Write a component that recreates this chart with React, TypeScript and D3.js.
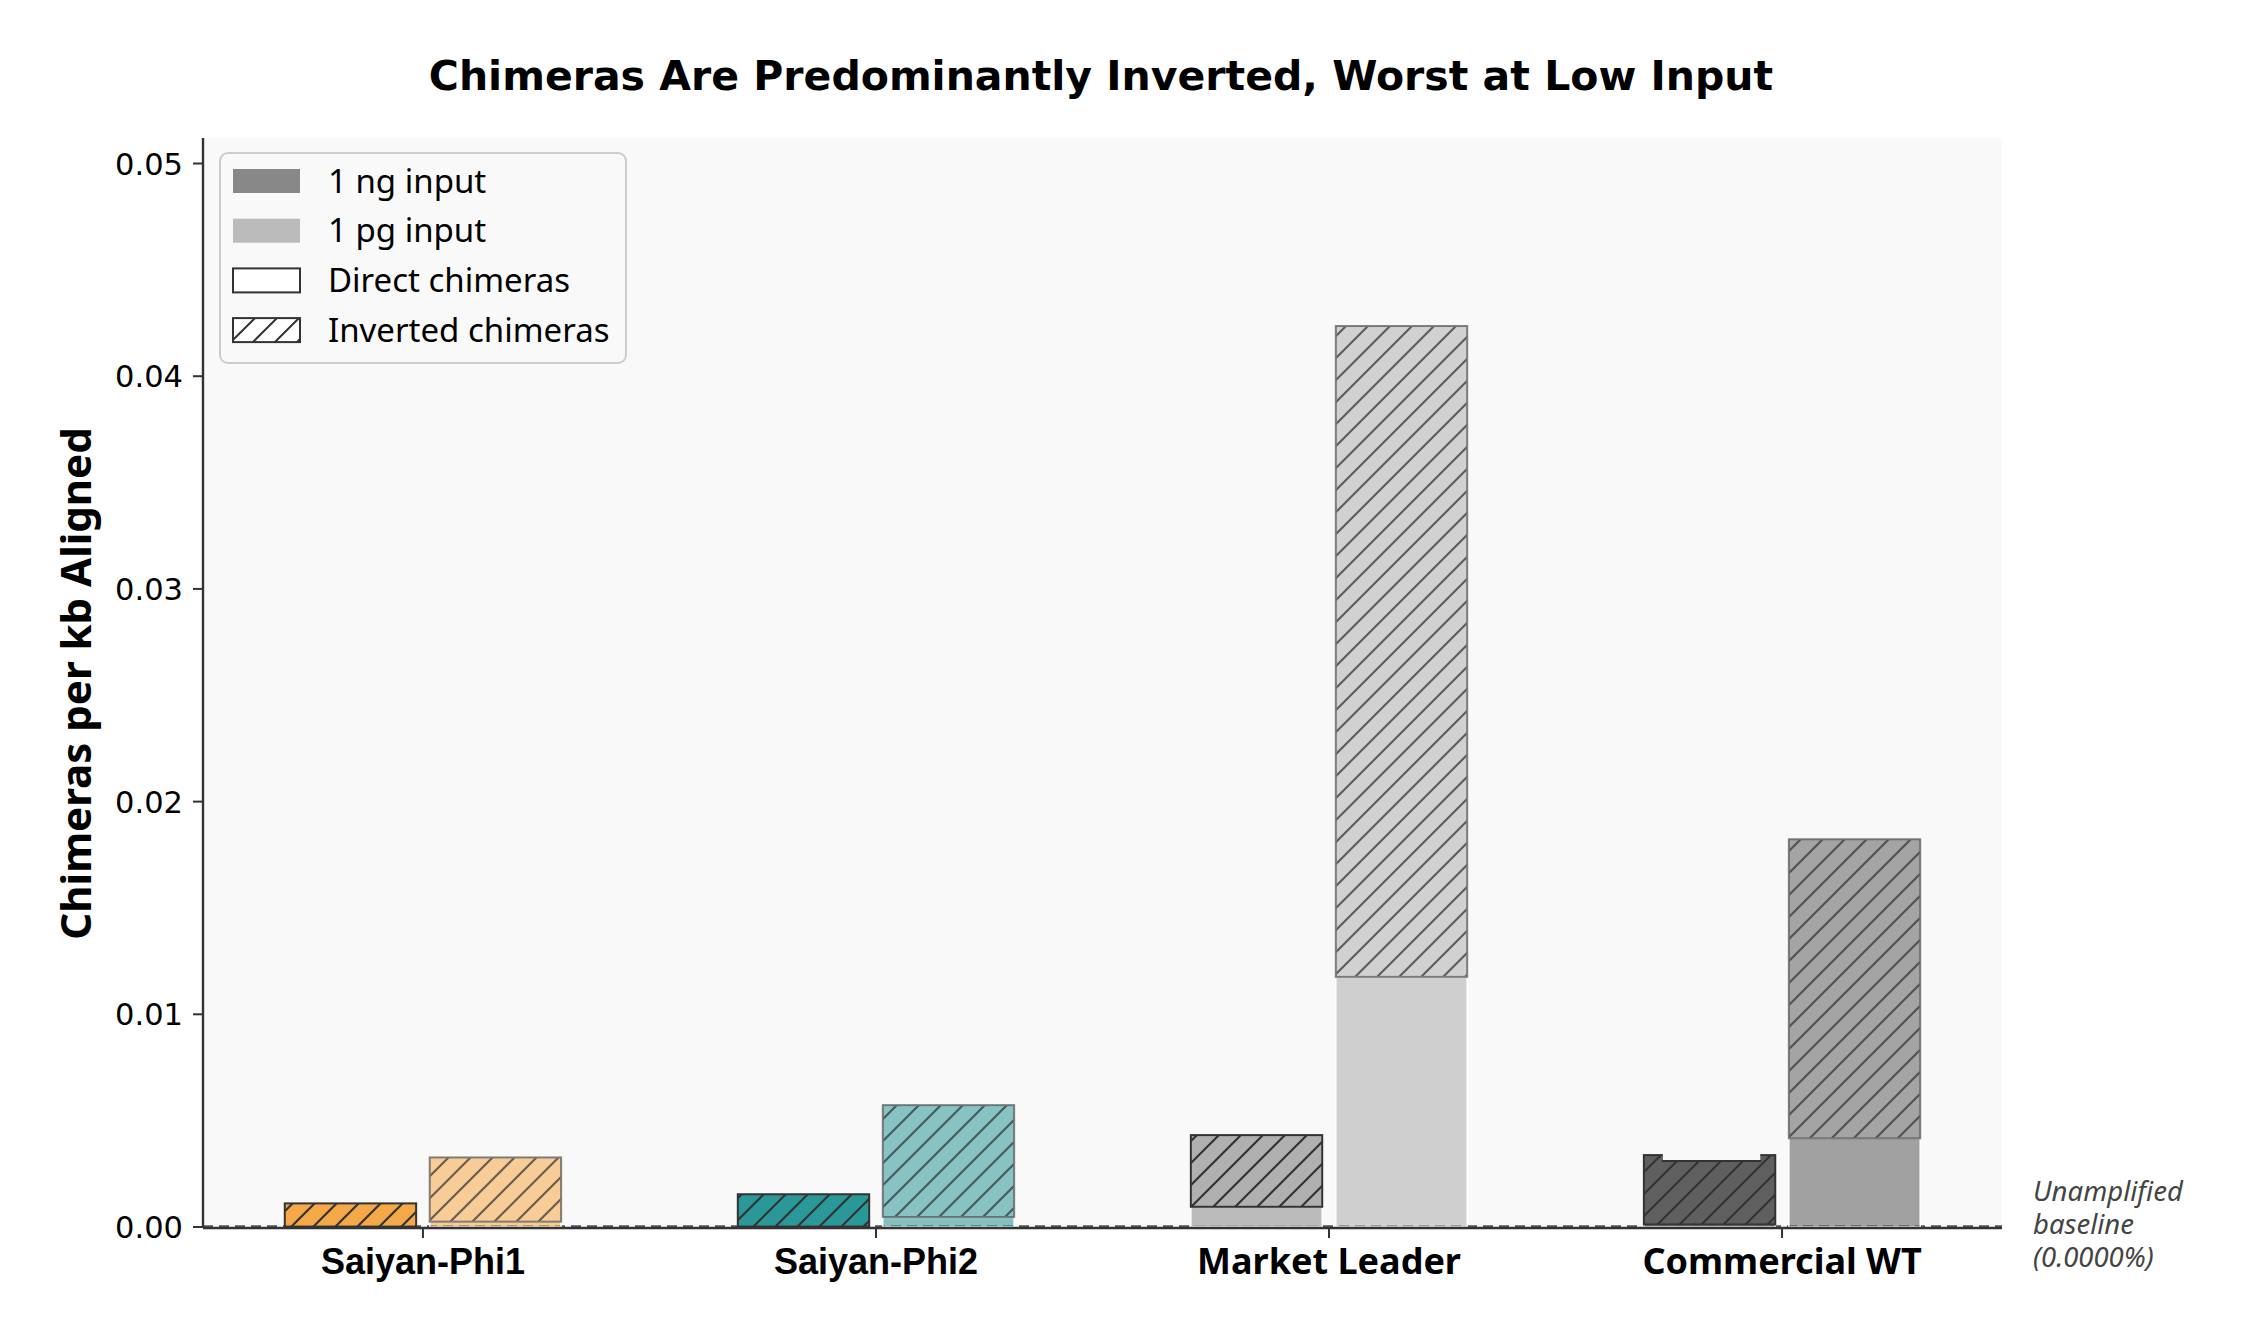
import React from "react";
import * as d3 from "d3";

// Chimera rates per kb aligned, split by input amount and chimera type
const categories = ["Saiyan-Phi1", "Saiyan-Phi2", "Market Leader", "Commercial WT"];
const baseColors = ["#F5A847", "#2A9898", "#B0B0B0", "#5F5F5F"];
const labelFonts = ["'Liberation Sans', Arial, sans-serif", "'Liberation Sans', Arial, sans-serif", "'Noto Sans', sans-serif", "'Noto Sans', sans-serif"];

const direct1ng = [0.00002, 0.00002, 0.00095, 0.00012];
const inverted1ng = [0.00109, 0.00152, 0.00337, 0.00326];
const direct1pg = [0.00025, 0.00047, 0.01176, 0.00417];
const inverted1pg = [0.00302, 0.00526, 0.0306, 0.01406];
// Commercial WT 1 ng bar top is cut back to this level between its corner posts
const notchLevel = [null, null, null, 0.0031];

const yTicks = [0, 0.01, 0.02, 0.03, 0.04, 0.05];

const legendItems = [
  { label: "1 ng input", kind: "ng" },
  { label: "1 pg input", kind: "pg" },
  { label: "Direct chimeras", kind: "direct" },
  { label: "Inverted chimeras", kind: "inverted" },
];

const W = 2242;
const H = 1342;
const plot = { left: 203, right: 2002, top: 138, bottom: 1227 };
const barWidth = 0.29;
const barOffset = 0.16;

export default function App() {
  const x = d3.scaleLinear().domain([-0.4855, 3.4855]).range([plot.left, plot.right]);
  const y = d3.scaleLinear().domain([0, 0.0512]).range([plot.bottom, plot.top]);
  const bw = x(barWidth) - x(0);

  const segs: any[] = [];
  categories.forEach((c, i) => {
    const groups = [
      { off: -barOffset, d: direct1ng[i], v: inverted1ng[i], alpha: 1, dAlpha: 0.85, hatchAlpha: 1, edge: "#333333", notch: notchLevel[i] },
      { off: barOffset, d: direct1pg[i], v: inverted1pg[i], alpha: 0.55, dAlpha: 0.57, hatchAlpha: 0.72, edge: "#555555", notch: null },
    ];
    groups.forEach((g, j) => {
      const x0 = x(i + g.off) - bw / 2;
      const top = y(g.d + g.v);
      const h = y(g.d) - top;
      segs.push(
        <g key={`${i}-${j}`}>
          <rect
            x={x0}
            y={y(g.d)}
            width={bw}
            height={y(0) - y(g.d)}
            fill={baseColors[i]}
            fillOpacity={g.dAlpha}
            stroke="#ffffff"
            strokeWidth={1.5}
          />
          <rect x={x0} y={top} width={bw} height={h} fill={baseColors[i]} fillOpacity={g.alpha} />
          <rect
            x={x0}
            y={top}
            width={bw}
            height={h}
            fill="url(#hatch)"
            opacity={g.hatchAlpha}
            stroke={g.edge}
            strokeWidth={2}
          />
          {g.notch != null && (
            <rect
              x={x0 + 19}
              y={top - 1.5}
              width={bw - 34}
              height={y(g.notch) - top + 0.5}
              fill="#f9f9f9"
            />
          )}
          {g.notch != null && (
            <line x1={x0 + 18} x2={x0 + bw - 14} y1={y(g.notch)} y2={y(g.notch)} stroke="#333333" strokeWidth={2} />
          )}
        </g>
      );
    });
  });

  const legend = { x: 220, y: 153, w: 406, h: 210 };

  return (
    <svg
      width={W}
      height={H}
      viewBox={`0 0 ${W} ${H}`}
      style={{ position: "absolute", left: 0, top: 0, display: "block", background: "#ffffff" }}
    >
      <defs>
        <pattern id="hatch" patternUnits="userSpaceOnUse" width={22} height={22}>
          <path d="M0,22 L22,0 M-5.5,5.5 L5.5,-5.5 M16.5,27.5 L27.5,16.5" stroke="#333333" strokeWidth={2.2} />
        </pattern>
        <pattern id="hatchLegend" patternUnits="userSpaceOnUse" width={22} height={22} x={233} y={318}>
          <path d="M0,22 L22,0 M-5.5,5.5 L5.5,-5.5 M16.5,27.5 L27.5,16.5" stroke="#333333" strokeWidth={2} />
        </pattern>
      </defs>

      <text
        x={1101}
        y={90}
        textAnchor="middle"
        fontFamily="'DejaVu Sans', sans-serif"
        fontWeight="bold"
        fontSize={41}
        fill="#000"
      >
        Chimeras Are Predominantly Inverted, Worst at Low Input
      </text>

      <rect x={plot.left} y={plot.top} width={plot.right - plot.left} height={plot.bottom - plot.top} fill="#f9f9f9" />

      {/* dashed reference line at the unamplified baseline */}
      <line
        x1={plot.left}
        x2={plot.right}
        y1={y(0) - 0.5}
        y2={y(0) - 0.5}
        stroke="#555555"
        strokeWidth={2.4}
        strokeDasharray="10 6"
      />

      {segs}

      {/* axes */}
      <line x1={plot.left} x2={plot.left} y1={plot.top} y2={plot.bottom + 1} stroke="#333" strokeWidth={2.4} />
      <line x1={plot.left} x2={plot.right} y1={plot.bottom + 1} y2={plot.bottom + 1} stroke="#333" strokeWidth={2.4} />

      {yTicks.map((t) => (
        <g key={t}>
          <line x1={plot.left - 10} x2={plot.left} y1={y(t)} y2={y(t)} stroke="#333" strokeWidth={2} />
          <text
            x={plot.left - 20}
            y={y(t)}
            dy="0.36em"
            textAnchor="end"
            fontFamily="'DejaVu Sans', sans-serif"
            fontSize={30.5}
            fill="#000"
          >
            {t.toFixed(2)}
          </text>
        </g>
      ))}

      {categories.map((c, i) => (
        <g key={c}>
          <line x1={x(i)} x2={x(i)} y1={plot.bottom + 1} y2={plot.bottom + 11} stroke="#333" strokeWidth={2} />
          <text
            x={x(i)}
            y={1274}
            textAnchor="middle"
            fontFamily={labelFonts[i]}
            fontWeight="bold"
            fontSize={36}
            fill="#000"
          >
            {c}
          </text>
        </g>
      ))}

      <text
        transform={`translate(76, ${(plot.top + plot.bottom) / 2 + 1}) rotate(-90)`}
        textAnchor="middle"
        dy="0.35em"
        fontFamily="'Noto Sans', sans-serif"
        fontWeight="bold"
        fontSize={42}
        fill="#000"
      >
        Chimeras per kb Aligned
      </text>

      <text fontFamily="'Noto Sans', sans-serif" fontStyle="italic" fontSize={27.5} fill="#444444">
        <tspan x={2033} y={y(0) - 26}>Unamplified</tspan>
        <tspan x={2033} y={y(0) + 7}>baseline</tspan>
        <tspan x={2033} y={y(0) + 40}>(0.0000%)</tspan>
      </text>

      {/* legend */}
      <rect
        x={legend.x}
        y={legend.y}
        width={legend.w}
        height={legend.h}
        rx={8}
        fill="#f9f9f9"
        fillOpacity={0.8}
        stroke="#cccccc"
        strokeWidth={2}
      />
      {legendItems.map((it, k) => {
        const cy = 181 + k * 49.7;
        const hx = 233;
        const hw = 67;
        const hh = 24;
        let handle;
        if (it.kind === "ng") handle = <rect x={hx} y={cy - hh / 2} width={hw} height={hh} fill="#888888" />;
        else if (it.kind === "pg") handle = <rect x={hx} y={cy - hh / 2} width={hw} height={hh} fill="#bbbbbb" />;
        else if (it.kind === "direct")
          handle = <rect x={hx} y={cy - hh / 2} width={hw} height={hh} fill="#ffffff" stroke="#333" strokeWidth={2} />;
        else
          handle = (
            <g>
              <rect x={hx} y={cy - hh / 2} width={hw} height={hh} fill="#ffffff" />
              <rect x={hx} y={cy - hh / 2} width={hw} height={hh} fill="url(#hatchLegend)" stroke="#333" strokeWidth={2} />
            </g>
          );
        return (
          <g key={it.label}>
            {handle}
            <text
              x={328}
              y={cy}
              dy="0.35em"
              fontFamily="'Noto Sans', sans-serif"
              fontSize={33}
              fill="#000"
            >
              {it.label}
            </text>
          </g>
        );
      })}
    </svg>
  );
}
